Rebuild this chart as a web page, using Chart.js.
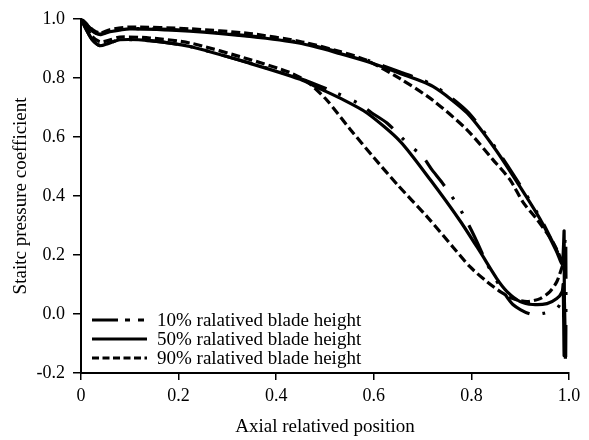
<!DOCTYPE html>
<html>
<head>
<meta charset="utf-8">
<script src="https://cdn.jsdelivr.net/npm/chart.js@4.4.1/dist/chart.umd.min.js"></script>
<style>
  html, body { margin: 0; padding: 0; background: #fff; }
  #wrap { width: 589px; height: 440px; }
</style>
</head>
<body>
<div id="wrap"><canvas id="chart" width="589" height="440"></canvas></div>
<script>
// series names
const seriesNames = ['10% ralatived blade height', '50% ralatived blade height', '90% ralatived blade height'];

// axis ticks
const xTicks = [0, 0.2, 0.4, 0.6, 0.8, 1.0];
const yTicks = [-0.2, 0, 0.2, 0.4, 0.6, 0.8, 1.0];

// upper branch (leading edge -> trailing edge), [x, Cp]
const upper10 = [[0,1.0],[0.01,0.984],[0.025,0.958],[0.039,0.948],[0.059,0.958],[0.1,0.967],[0.223,0.96],[0.346,0.942],[0.449,0.92],[0.531,0.886],[0.586,0.86],[0.654,0.82],[0.721,0.776],[0.791,0.687],[0.844,0.576],[0.885,0.475],[0.941,0.326],[0.975,0.215],[0.986,0.175]];
const upper50 = [[0,1.0],[0.01,0.983],[0.025,0.956],[0.039,0.946],[0.059,0.956],[0.1,0.966],[0.223,0.958],[0.346,0.94],[0.449,0.917],[0.531,0.882],[0.586,0.855],[0.654,0.815],[0.721,0.771],[0.791,0.681],[0.844,0.57],[0.885,0.469],[0.941,0.321],[0.975,0.21],[0.986,0.17]];
const upper90 = [[0,1.0],[0.01,0.985],[0.025,0.962],[0.039,0.952],[0.059,0.963],[0.1,0.972],[0.223,0.966],[0.346,0.95],[0.449,0.923],[0.531,0.889],[0.586,0.859],[0.654,0.797],[0.721,0.724],[0.791,0.624],[0.844,0.523],[0.879,0.455],[0.906,0.378],[0.934,0.321],[0.967,0.244],[0.988,0.17]];

// trailing edge oscillation
const te10 = [[0.993,0.26],[0.993,-0.17],[0.99,0.07]];
const te50 = [[0.99,0.28],[0.99,-0.14],[0.988,0.1]];
const te90 = [];

// lower branch (leading edge -> trailing edge)
const lower10 = [[0,1.0],[0.01,0.966],[0.023,0.929],[0.039,0.909],[0.055,0.916],[0.08,0.929],[0.141,0.926],[0.223,0.906],[0.346,0.85],[0.449,0.798],[0.51,0.758],[0.568,0.714],[0.596,0.681],[0.627,0.647],[0.674,0.57],[0.699,0.536],[0.719,0.489],[0.74,0.445],[0.777,0.355],[0.807,0.26],[0.832,0.17],[0.859,0.092],[0.885,0.032],[0.92,0.0],[0.947,0.002],[0.975,0.018],[0.986,0.049]];
const lower50 = [[0,1.0],[0.01,0.966],[0.023,0.929],[0.039,0.909],[0.055,0.916],[0.08,0.929],[0.141,0.926],[0.223,0.906],[0.346,0.849],[0.449,0.795],[0.49,0.763],[0.531,0.731],[0.586,0.681],[0.654,0.585],[0.717,0.452],[0.777,0.315],[0.818,0.21],[0.852,0.12],[0.873,0.076],[0.9,0.042],[0.926,0.032],[0.955,0.035],[0.975,0.052],[0.986,0.076]];
const lower90 = [[0,1.0],[0.01,0.975],[0.023,0.94],[0.039,0.922],[0.055,0.926],[0.08,0.938],[0.141,0.935],[0.223,0.918],[0.346,0.862],[0.428,0.818],[0.465,0.785],[0.504,0.724],[0.551,0.627],[0.6,0.53],[0.65,0.435],[0.709,0.33],[0.762,0.227],[0.797,0.16],[0.832,0.109],[0.859,0.076],[0.885,0.052],[0.914,0.042],[0.941,0.052],[0.961,0.076],[0.975,0.109],[0.988,0.17]];

const FONT = '"Liberation Serif", "Times New Roman", serif';

function loop(upper, te, lower) {
  return upper.concat(te, lower.slice().reverse()).map(p => ({ x: p[0], y: p[1] }));
}

const plotDash = [[32, 13, 3, 14, 3, 13], [], [9, 4]];
const legendDash = [[26, 7, 5, 8, 6, 3], [], [7, 3.5]];

const insideLegend = {
  id: 'insideLegend',
  afterDraw(chart) {
    const ctx = chart.ctx;
    const rows = [320, 339, 358];
    ctx.save();
    ctx.font = '19px ' + FONT;
    ctx.fillStyle = '#000';
    ctx.strokeStyle = '#000';
    ctx.lineWidth = 3;
    ctx.textBaseline = 'middle';
    seriesNames.forEach((name, i) => {
      ctx.setLineDash(legendDash[i]);
      ctx.beginPath();
      ctx.moveTo(92, rows[i]);
      ctx.lineTo(147, rows[i]);
      ctx.stroke();
      ctx.setLineDash([]);
      ctx.fillText(name, 157, rows[i] + 1);
    });
    ctx.restore();
  }
};

const datasets = [
  loop(upper10, te10, lower10),
  loop(upper50, te50, lower50),
  loop(upper90, te90, lower90)
].map((data, i) => ({
  label: seriesNames[i],
  data,
  showLine: true,
  fill: false,
  pointRadius: 0,
  borderColor: '#000',
  borderWidth: 3.2,
  borderDash: plotDash[i],
  borderJoinStyle: 'round',
  tension: 0.25
}));

new Chart(document.getElementById('chart'), {
  type: 'scatter',
  data: { datasets },
  options: {
    responsive: false,
    animation: false,
    devicePixelRatio: 1,
    layout: { padding: { top: 15, right: 20, left: 0, bottom: 0 } },
    plugins: { legend: { display: false }, tooltip: { enabled: false } },
    scales: {
      x: {
        type: 'linear',
        min: 0, max: 1,
        afterBuildTicks: s => { s.ticks = xTicks.map(v => ({ value: v })); },
        afterFit: s => { s.height = 67; },
        ticks: {
          color: '#000',
          font: { family: FONT, size: 18 },
          padding: 5,
          maxRotation: 0,
          callback: v => v === 0 ? '0' : v.toFixed(1)
        },
        grid: { drawOnChartArea: false, drawTicks: true, tickLength: 7, color: '#000', lineWidth: 1.5 },
        border: { color: '#000', width: 2 },
        title: { display: true, text: 'Axial relatived position', color: '#000', font: { family: FONT, size: 19 }, padding: { top: 0, bottom: 2 } }
      },
      y: {
        type: 'linear',
        min: -0.2, max: 1.0,
        afterBuildTicks: s => { s.ticks = yTicks.map(v => ({ value: v })); },
        afterFit: s => { s.width = 81; },
        ticks: {
          color: '#000',
          font: { family: FONT, size: 18 },
          padding: 8,
          callback: v => v.toFixed(1)
        },
        grid: { drawOnChartArea: false, drawTicks: true, tickLength: 8, color: '#000', lineWidth: 1.5 },
        border: { color: '#000', width: 2 },
        title: { display: true, text: 'Staitc pressure coefficient', color: '#000', font: { family: FONT, size: 19 }, padding: { top: 10, bottom: 0 } }
      }
    }
  },
  plugins: [insideLegend]
});
</script>
</body>
</html>
